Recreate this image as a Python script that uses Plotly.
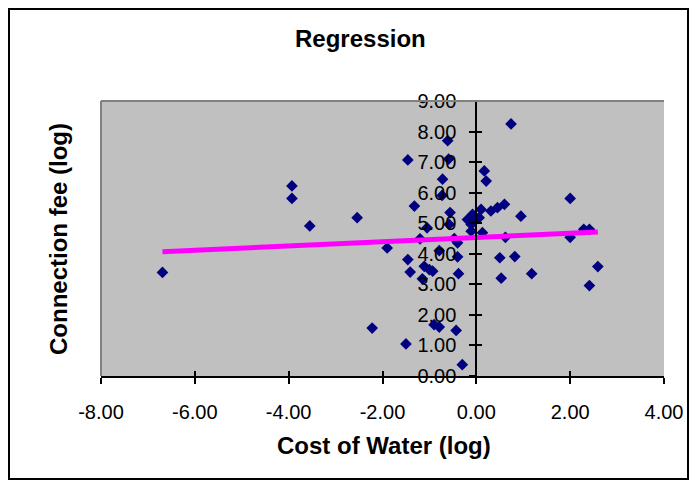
import plotly.graph_objects as go

# Data
cost_of_water_log = [
    -6.69, -3.93, -3.93, -3.55, -2.54, -2.22, -1.90, -1.46, -1.50, -1.32,
    -1.46, -1.41, -1.20, -1.15, -1.11, -1.00, -0.93, -1.05, -0.79, -0.90,
    -0.79, -0.43, -0.30, -0.61, -0.59, -0.72, -0.73, -0.56, -0.58, -0.47,
    -0.40, -0.40, -0.38, -0.19, -0.11, -0.08, -0.04, 0.06, 0.10, 0.31,
    0.45, 0.60, -0.11, 0.13, 0.74, 0.17, 0.21, 0.95, 0.62, 0.50,
    0.82, 0.53, 1.18, 2.00, 2.00, 2.29, 2.41, 2.41, 2.59,
]
connection_fee_log = [
    3.39, 6.22, 5.81, 4.91, 5.18, 1.57, 4.19, 7.07, 1.05, 5.56,
    3.81, 3.40, 4.49, 3.18, 3.59, 3.48, 3.43, 4.85, 4.10, 1.68,
    1.60, 1.49, 0.37, 7.70, 7.10, 6.44, 5.91, 5.35, 4.96, 4.50,
    4.36, 3.90, 3.35, 5.12, 4.96, 5.29, 5.07, 5.18, 5.45, 5.40,
    5.51, 5.62, 4.74, 4.69, 8.25, 6.71, 6.38, 5.23, 4.54, 3.87,
    3.91, 3.20, 3.35, 5.81, 4.54, 4.80, 4.80, 2.96, 3.58,
]
trend_x = [-6.69, 2.59]
trend_y = [4.07, 4.71]

x_ticks = [-8, -6, -4, -2, 0, 2, 4]
x_tick_labels = ["-8.00", "-6.00", "-4.00", "-2.00", "0.00", "2.00", "4.00"]
y_ticks = [0, 1, 2, 3, 4, 5, 6, 7, 8, 9]
y_tick_labels = ["0.00", "1.00", "2.00", "3.00", "4.00", "5.00", "6.00",
                 "7.00", "8.00", "9.00"]

FONT = "Liberation Sans, Arial, sans-serif"
W, H = 697, 487
ML, MR, MT, MB = 101, 33, 101, 111
PW, PH = W - ML - MR, H - MT - MB


def px_to_paper_x(px):
    return (px - ML) / PW


def px_to_paper_y(py):
    return (H - MB - py) / PH


fig = go.Figure()

fig.add_trace(go.Scatter(
    x=cost_of_water_log, y=connection_fee_log, mode="markers",
    marker=dict(symbol="diamond", size=9, color="#000080",
                line=dict(width=0)),
    showlegend=False, hoverinfo="x+y",
))
fig.add_trace(go.Scatter(
    x=trend_x, y=trend_y, mode="lines",
    line=dict(color="#FF00FF", width=5),
    showlegend=False, hoverinfo="skip",
))

x_pos_zero = (0 - (-8)) / 12.0

fig.update_layout(
    width=W, height=H,
    margin=dict(l=ML, r=MR, t=MT, b=MB),
    paper_bgcolor="white",
    plot_bgcolor="#C0C0C0",
    font=dict(family=FONT, size=20, color="black"),
    xaxis=dict(
        range=[-8, 4], tickvals=x_ticks, ticktext=x_tick_labels,
        showgrid=False, zeroline=False,
        showline=True, linecolor="black", linewidth=2,
        ticks="outside", ticklen=6, tickwidth=2, tickcolor="black",
        tickfont=dict(family=FONT, size=20, color="black"),
        ticklabelstandoff=11,
    ),
    xaxis2=dict(
        range=[-8, 4], tickvals=x_ticks, overlaying="x",
        showgrid=False, zeroline=False, showline=False,
        ticks="inside", ticklen=5, tickwidth=2, tickcolor="black",
        showticklabels=False, anchor="y",
    ),
    yaxis=dict(
        range=[0, 9], tickvals=y_ticks, ticktext=y_tick_labels,
        anchor="free", position=x_pos_zero,
        showgrid=False, zeroline=False,
        showline=True, linecolor="black", linewidth=2,
        ticks="outside", ticklen=6, tickwidth=2, tickcolor="black",
        tickfont=dict(family=FONT, size=20, color="black"),
        ticklabelstandoff=9,
    ),
    yaxis2=dict(
        range=[0, 9], tickvals=y_ticks, overlaying="y",
        anchor="free", position=x_pos_zero,
        showgrid=False, zeroline=False, showline=False,
        ticks="inside", ticklen=5, tickwidth=2, tickcolor="black",
        showticklabels=False,
    ),
    shapes=[
        dict(type="line", xref="paper", yref="paper", x0=0, x1=1, y0=1, y1=1,
             line=dict(color="#808080", width=2)),
        dict(type="line", xref="paper", yref="paper", x0=0, x1=0, y0=0, y1=1,
             line=dict(color="#808080", width=2)),
        dict(type="rect", xref="paper", yref="paper",
             x0=px_to_paper_x(9), x1=px_to_paper_x(688),
             y0=px_to_paper_y(479), y1=px_to_paper_y(9),
             line=dict(color="black", width=2), fillcolor="rgba(0,0,0,0)",
             layer="below"),
    ],
    annotations=[
        dict(text="<b>Regression</b>", xref="paper", yref="paper",
             x=px_to_paper_x(360), y=px_to_paper_y(38),
             showarrow=False, xanchor="center", yanchor="middle",
             font=dict(family=FONT, size=24, color="black")),
        dict(text="<b>Cost of Water (log)</b>", xref="paper", yref="paper",
             x=px_to_paper_x(384), y=px_to_paper_y(445),
             showarrow=False, xanchor="center", yanchor="middle",
             font=dict(family=FONT, size=24, color="black")),
        dict(text="<b>Connection fee (log)</b>", xref="paper", yref="paper",
             x=px_to_paper_x(58), y=px_to_paper_y(239), textangle=-90,
             showarrow=False, xanchor="center", yanchor="middle",
             font=dict(family=FONT, size=24, color="black")),
    ],
)

fig.add_trace(go.Scatter(x=[None], y=[None], xaxis="x2", yaxis="y2",
                         showlegend=False, hoverinfo="skip"))

fig.write_html("out.html")
